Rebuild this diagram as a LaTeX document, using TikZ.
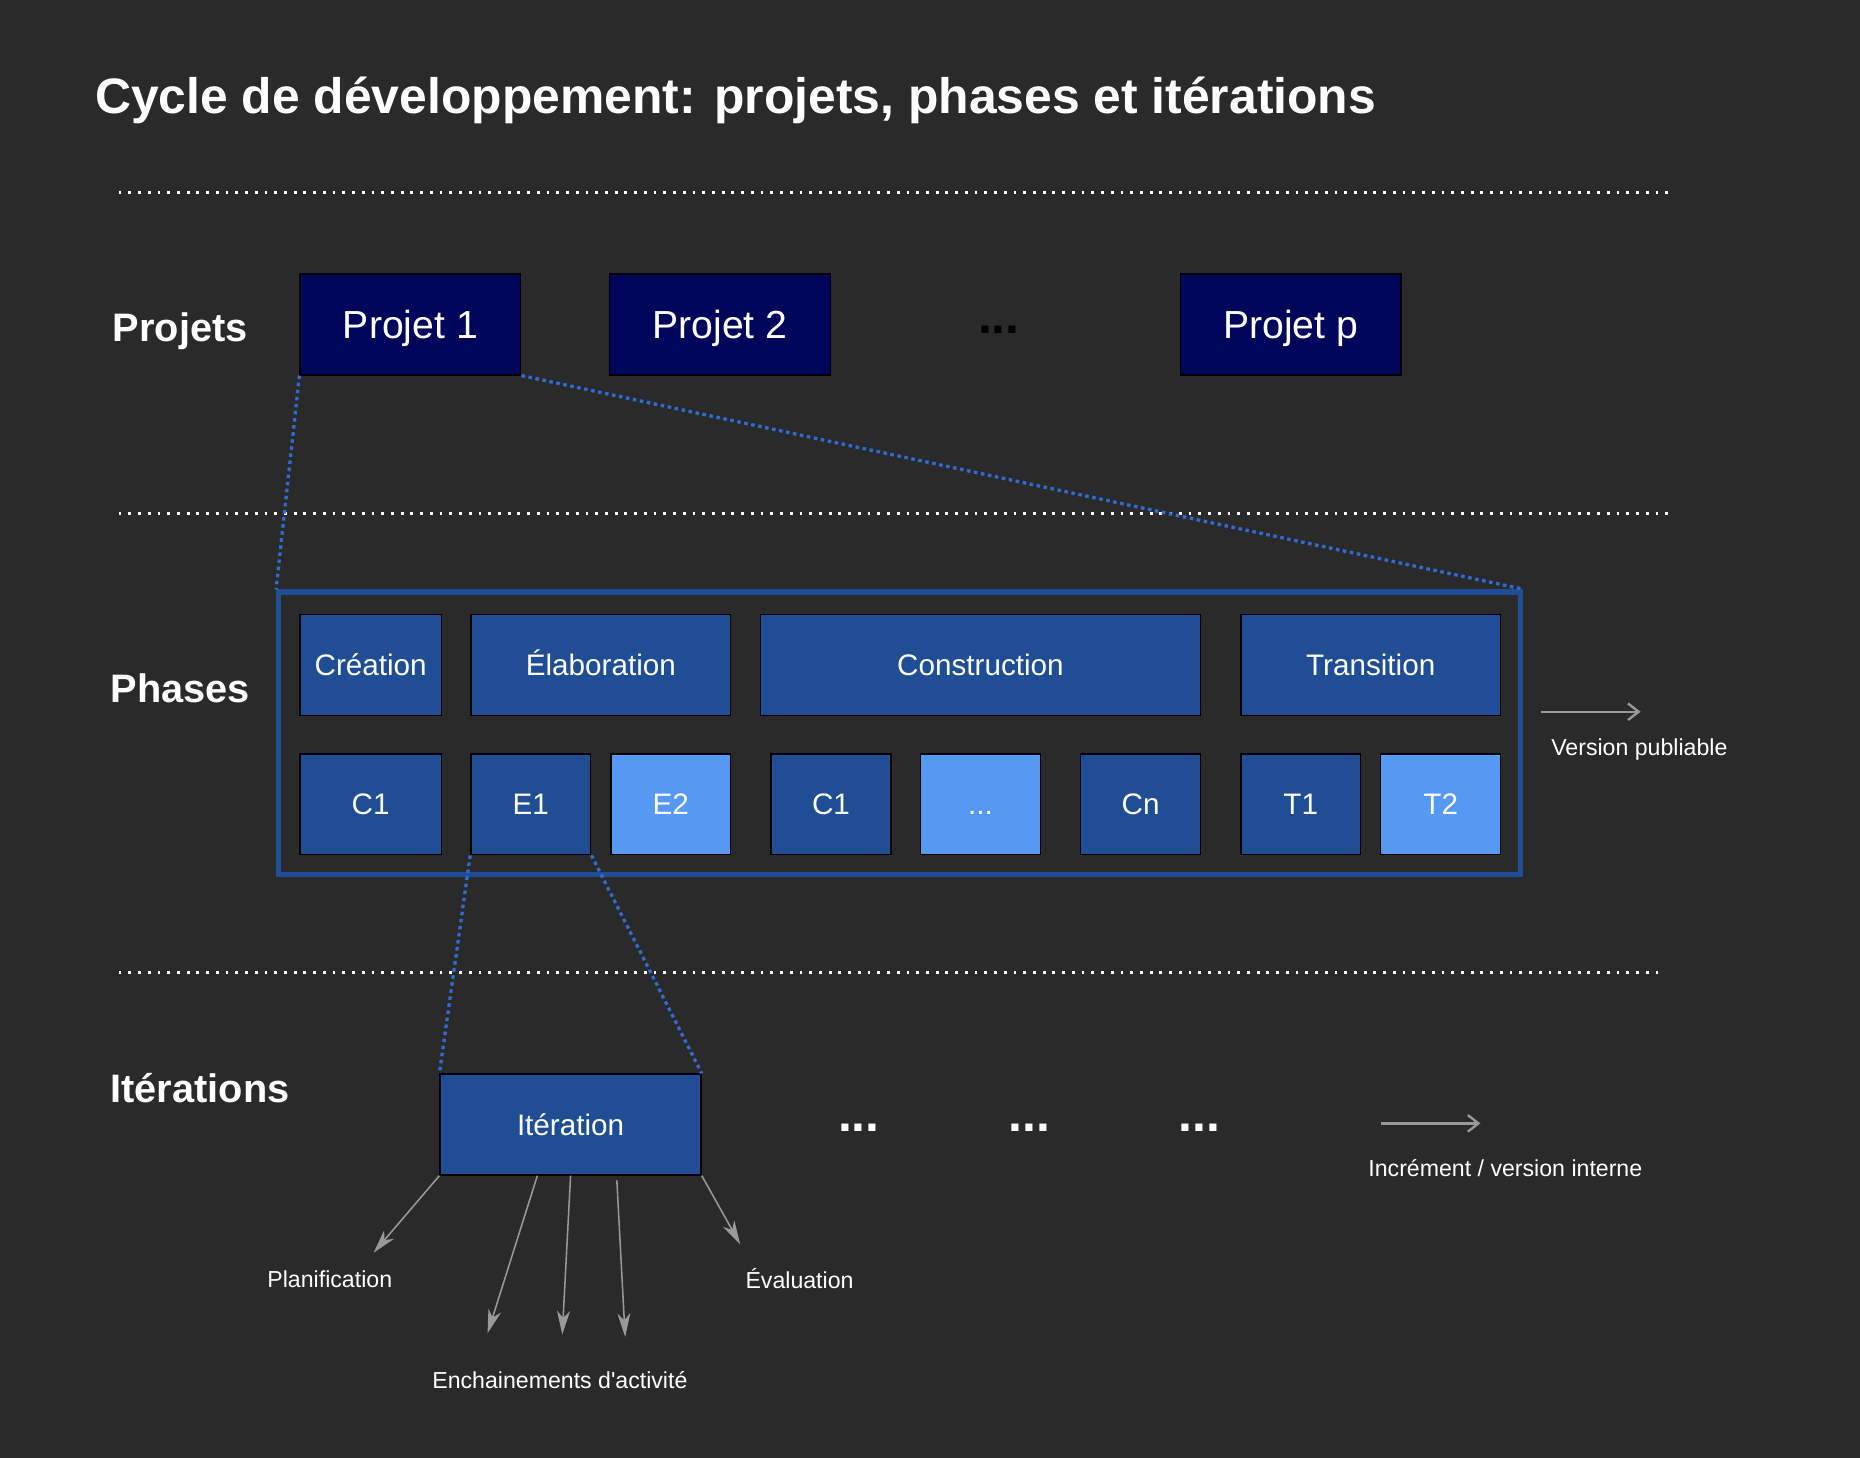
\documentclass[tikz,border=0pt]{standalone}
\usepackage{fontspec}
\setmainfont{Liberation Sans}
\usetikzlibrary{arrows.meta}
\definecolor{fond}{HTML}{2A2A2A}
\definecolor{marine}{HTML}{00075A}
\definecolor{bleu}{HTML}{1F4E94}
\definecolor{bleuclair}{HTML}{5699F5}
\definecolor{lienbleu}{HTML}{2F6BD1}
\definecolor{gris}{HTML}{999999}
\tikzset{>={Stealth[length=20pt, width=11pt, inset=6pt]}}
\tikzset{
    boite/.style={draw=black, line width=1.2pt, text=white, inner sep=0pt, minimum height=85pt, text depth=0pt},
    projet/.style={boite, fill=marine, minimum width=186pt, font=\fontsize{33}{40}\selectfont, text height=23.6pt},
    phase/.style={boite, fill=bleu, font=\fontsize{25}{30}\selectfont, text height=17.9pt},
    clair/.style={phase, fill=bleuclair},
    etiquette/.style={text=white, font=\bfseries\fontsize{33.5}{40}\selectfont, anchor=base west, inner sep=0pt},
    petit/.style={text=white, font=\fontsize{19.5}{24}\selectfont, inner sep=0pt},
    points/.style={font=\bfseries\fontsize{42}{50}\selectfont, anchor=base, inner sep=0pt},
    separateur/.style={white, line width=2.6pt, dash pattern=on 2.4pt off 5.8pt},
    lien/.style={lienbleu, line width=2.8pt, dash pattern=on 3pt off 3pt},
    fleche/.style={gris, line width=1.3pt, ->},
    sortie/.style={gris, line width=2pt, -{Straight Barb[length=9pt, width=14pt]}}
}

\begin{document}
\begin{tikzpicture}[x=1pt, y=-1pt]
    \fill[fond](0, 0)rectangle(1568, 1229);
    \node[text=white, font=\bfseries\fontsize{42}{50}\selectfont, anchor=base west, inner sep=0pt](titre) at (80, 96){Cycle de développement: projets, phases et itérations};
    \draw[separateur](100, 162)--(1410, 162);
    \draw[separateur](100, 433)--(1410, 433);
    \draw[separateur](100, 820)--(1400, 820);
    % projets
    \node[etiquette](lprojets) at (95, 288){Projets};
    \node[projet](p1) at (346, 273.5){Projet 1};
    \node[projet](p2) at (607, 273.5){Projet 2};
    \node[points, text=black](pdots) at (842, 281){...};
    \node[projet](pp) at (1088, 273.5){Projet p};
    % phases
    \node[etiquette](lphases) at (93, 592){Phases};
    \node[draw=bleu, line width=4.5pt, minimum width=1047pt, minimum height=238pt, inner sep=0pt](cadre) at (758.5, 618){};
    \node[phase, minimum width=119pt](creation) at (312.5, 560.5){Création};
    \node[phase, minimum width=219pt](elaboration) at (506.5, 560.5){Élaboration};
    \node[phase, minimum width=371pt](construction) at (826.5, 560.5){Construction};
    \node[phase, minimum width=219pt](transition) at (1155.5, 560.5){Transition};
    \node[phase, minimum width=119pt](c1) at (312.5, 678){C1};
    \node[phase, minimum width=101pt](e1) at (447.5, 678){E1};
    \node[clair, minimum width=101pt](e2) at (565.5, 678){E2};
    \node[phase, minimum width=101pt](cb) at (700.5, 678){C1};
    \node[clair, minimum width=101pt](cdots) at (826.5, 678){...};
    \node[phase, minimum width=101pt](cn) at (961.5, 678){Cn};
    \node[phase, minimum width=101pt](t1) at (1096.5, 678){T1};
    \node[clair, minimum width=101pt](t2) at (1214.5, 678){T2};
    \draw[lien](p1.south west)--(cadre.north west);
    \draw[lien](p1.south east)--(cadre.north east);
    \coordinate(vp0) at (1299, 600);
    \coordinate(vp1) at (1383, 600);
    \draw[sortie](vp0)--(vp1);
    \node[petit](version) at (1382, 632){Version publiable};
    % iterations
    \node[etiquette](literations) at (93, 929){Itérations};
    \node[phase, minimum width=220pt](iter) at (481, 948){Itération};
    \draw[lien](e1.south west)--(iter.north west);
    \draw[lien](e1.south east)--(iter.north east);
    \node[points, text=white](i1) at (724, 954){...};
    \node[points, text=white](i2) at (868, 954){...};
    \node[points, text=white](i3) at (1011, 954){...};
    \coordinate(in0) at (1164, 947);
    \coordinate(in1) at (1248, 947);
    \draw[sortie](in0)--(in1);
    \node[petit](increment) at (1269, 985){Incrément / version interne};
    \coordinate(planif) at (315, 1056);
    \coordinate(act1) at (411, 1124);
    \coordinate(act2) at (474, 1125);
    \coordinate(act3) at (527, 1127);
    \coordinate(eval) at (624, 1049);
    \draw[fleche](iter.south west)--(planif);
    \draw[fleche]([xshift=-28pt]iter.south)--(act1);
    \draw[fleche](iter.south)--(act2);
    \draw[fleche]([xshift=39pt, yshift=-4pt]iter.south)--(act3);
    \draw[fleche](iter.south east)--(eval);
    \node[petit](lplanif) at (278, 1078){Planification};
    \node[petit](leval) at (674, 1078){Évaluation};
    \node[petit](lact) at (472, 1163){Enchainements d\textquotesingle activité};
\end{tikzpicture}
\end{document}
